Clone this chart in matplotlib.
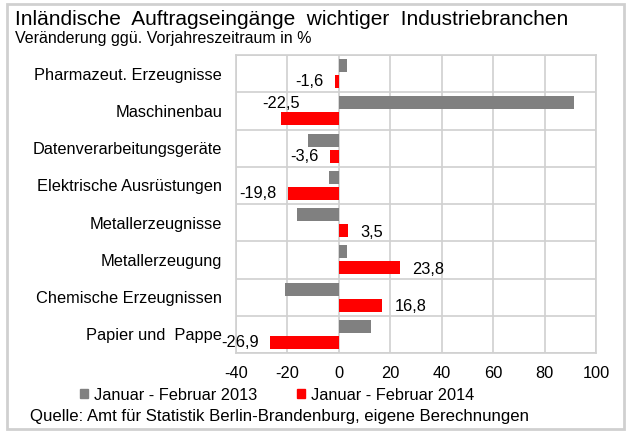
import numpy as np
import matplotlib
matplotlib.use("Agg")
import matplotlib.pyplot as plt
from matplotlib.patches import Patch, Rectangle

plt.rcParams['font.family'] = ['Liberation Sans', 'DejaVu Sans']

branchen = ['Pharmazeut. Erzeugnisse', 'Maschinenbau', 'Datenverarbeitungsgeräte',
            'Elektrische Ausrüstungen', 'Metallerzeugnisse', 'Metallerzeugung',
            'Chemische Erzeugnissen', 'Papier und  Pappe']
jf_2013 = [3.2, 91.4, -12.0, -3.9, -16.4, 3.1, -20.8, 12.4]
jf_2014 = [-1.6, -22.5, -3.6, -19.8, 3.5, 23.8, 16.8, -26.9]
xticks = [-40, -20, 0, 20, 40, 60, 80, 100]

grau = '#808080'
rot = '#ff0000'
gitter = '#d0d0d0'
fs = 11.8

fig = plt.figure(figsize=(6.27, 4.32), dpi=100)
ax = fig.add_axes([236/627, 1-353/432, 360/627, 298/432])

y = np.arange(len(branchen))
h = 0.35
ax.barh(y - 0.215, jf_2013, height=h, color=grau, zorder=3)
ax.barh(y + 0.215, jf_2014, height=h, color=rot, zorder=3)

ax.set_xlim(-40, 100)
ax.set_ylim(len(branchen) - 0.5, -0.5)
ax.set_xticks(xticks)
ax.set_xticklabels([str(t) for t in xticks])
ax.set_yticks(y)
ax.set_yticklabels(branchen)
ax.set_yticks(np.arange(len(branchen) + 1) - 0.5, minor=True)
ax.tick_params(which='both', length=0)
ax.tick_params(axis='x', pad=9, labelsize=fs)
ax.tick_params(axis='y', pad=10, labelsize=fs)
ax.grid(True, which='minor', axis='y', color=gitter, lw=1.2, zorder=0)
ax.grid(True, which='major', axis='x', color=gitter, lw=1.2, zorder=0)
for s in ax.spines.values():
    s.set_color(gitter)
    s.set_linewidth(1.2)

# Datenbeschriftung nur fuer 2014
for i, v in enumerate(jf_2014):
    txt = ('%.1f' % v).replace('.', ',')
    if i == 1:
        ax.annotate(txt, (v, i + 0.215), xytext=(0, 11), textcoords='offset points',
                    ha='center', va='center', fontsize=fs)
    elif v < 0:
        ax.annotate(txt, (v, i + 0.215), xytext=(-8, 0), textcoords='offset points',
                    ha='right', va='center', fontsize=fs)
    else:
        ax.annotate(txt, (v, i + 0.215), xytext=(9, -1), textcoords='offset points',
                    ha='left', va='center', fontsize=fs)

fig.text(15/627, 1-25/432, 'Inländische  Auftragseingänge  wichtiger  Industriebranchen',
         fontsize=15, va='baseline')
fig.text(15/627, 1-43/432, 'Veränderung ggü. Vorjahreszeitraum in %', fontsize=11.5, va='baseline')

handles = [Patch(color=grau, label='Januar - Februar 2013'),
           Patch(color=rot, label='Januar - Februar 2014')]
fig.legend(handles=handles, loc='center', bbox_to_anchor=(277/627, 1-395/432), ncol=2,
           frameon=False, fontsize=fs, handlelength=0.5, handleheight=0.5,
           handletextpad=0.35, columnspacing=2.4)

fig.text(30/627, 1-416/432, 'Quelle: Amt für Statistik Berlin-Brandenburg, eigene Berechnungen',
         fontsize=12.1, va='center')

fig.patches.append(Rectangle((7/627, 3/432), 617/627, 425/432, transform=fig.transFigure,
                             fill=False, edgecolor=gitter, lw=2))

fig.savefig('out.png', dpi=100)
